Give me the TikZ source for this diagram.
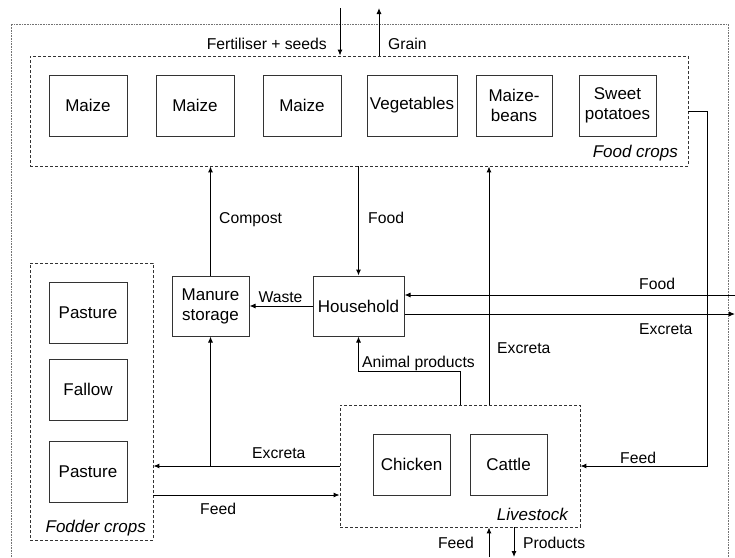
\documentclass[tikz,border=0pt]{standalone}
\usepackage{fontspec}
\setmainfont{Liberation Sans}
\usetikzlibrary{arrows.meta}

\begin{document}
\begin{tikzpicture}[x=1pt,y=-1pt,
  every node/.style={font=\fontsize{17}{20}\selectfont, inner sep=0pt},
  unit/.style={draw=black!80, line width=1pt, minimum width=78pt, minimum height=61pt, align=center},
  group/.style={draw=black!80, line width=0.8pt, dash pattern=on 3pt off 2pt},
  frame/.style={draw=black!55, line width=0.6pt, dash pattern=on 0.8pt off 0.8pt},
  flow/.style={line width=1pt, -{Latex[length=6pt,width=5pt]}},
  flowtext/.style={font=\fontsize{15.7}{18}\selectfont},
  lbl/.style={flowtext, anchor=base west},
  lblr/.style={flowtext, anchor=base east},
  grouplbl/.style={anchor=base east, font=\fontsize{17}{20}\selectfont\itshape}]

\useasboundingbox (0,0) rectangle (735,557);

% farm boundary
\draw[frame] (11,557) -- (11,24) -- (728,24) -- (728,557);

% groups
\node[group, minimum width=658pt, minimum height=110pt] (food) at (359,111) {};
\node[group, minimum width=123pt, minimum height=277pt] (fodder) at (91.5,401.5) {};
\node[group, minimum width=240pt, minimum height=122pt] (livestock) at (460,466) {};

% food crops
\node[unit] (maize1) at (88,105.5) {Maize};
\node[unit] (maize2) at (195,105.5) {Maize};
\node[unit] (maize3) at (302,105.5) {Maize};
\node[unit, minimum width=90pt] (veg) at (412,105.5) {Vegetables};
\node[unit, minimum width=76pt] (mbeans) at (514,105.5) {Maize-\\beans};
\node[unit, minimum width=77pt] (sweet) at (617.5,105.5) {Sweet\\potatoes};
\node[grouplbl] (foodlbl) at (678,157) {Food crops};

% fodder crops
\node[unit] (past1) at (88,312.5) {Pasture};
\node[unit] (fallow) at (88,389.5) {Fallow};
\node[unit] (past2) at (88,471.5) {Pasture};
\node[grouplbl] (fodderlbl) at (146,532) {Fodder crops};

% livestock
\node[unit, minimum width=77pt] (chicken) at (411.5,464.5) {Chicken};
\node[unit, minimum width=77pt] (cattle) at (508.5,464.5) {Cattle};
\node[grouplbl] (livelbl) at (568,520) {Livestock};

% household and manure
\node[unit, minimum width=77pt, minimum height=60pt] (manure) at (210.5,306) {Manure\\storage};
\node[unit, minimum width=91pt, minimum height=60pt] (household) at (358.5,306) {Household};

% free ends
\coordinate (fertin) at (340,8);
\coordinate (grainout) at (379,8);
\coordinate (ap) at (460,371);
\coordinate (exup) at (489,405);
\coordinate (sp) at (707,0);
\coordinate (foodin) at (735,295);
\coordinate (exout) at (735,314);
\coordinate (feedl) at (153,495);
\coordinate (feedb) at (489,557);
\coordinate (prod) at (514,557);

% flows
\draw[flow] (fertin) -- (fertin |- food.north);
\draw[flow] (grainout |- food.north) -- (grainout);
\draw[flow] (manure.north) -- (manure.north |- food.south);
\draw[flow] (household.north |- food.south) -- (household.north);
\draw[flow] (household.west) -- (manure.east);
\draw[flow] (livestock.north) -- (ap) -| (household.south);
\draw[flow] (exup) -- (exup |- food.south);
\draw[flow] (food.east) -- (food.east -| sp) |- (livestock.east);
\draw[flow] (foodin) -- (foodin -| household.east);
\draw[flow] (exout -| household.east) -- (exout);
\draw[flow] (livestock.west) -- (livestock.west -| fodder.east);
\draw[flow] (manure.south |- livestock.west) -- (manure.south);
\draw[flow] (feedl) -- (feedl -| livestock.west);
\draw[flow] (feedb) -- (feedb |- livestock.south);
\draw[flow] (prod |- livestock.south) -- (prod);

% flow labels
\node[lblr] (tfert) at (327,49) {Fertiliser + seeds};
\node[lbl] (tgrain) at (388,49) {Grain};
\node[lbl] (tcompost) at (219,223) {Compost};
\node[lbl] (tfood) at (368,223) {Food};
\node[flowtext, anchor=base] (twaste) at (280.5,302) {Waste};
\node[lbl] (tanimal) at (362,367) {Animal products};
\node[lbl] (texup) at (497,353) {Excreta};
\node[lbl] (tfoodin) at (639,289) {Food};
\node[lbl] (texout) at (639,334) {Excreta};
\node[lbl] (tfeedr) at (620,463) {Feed};
\node[lbl] (texl) at (252,458) {Excreta};
\node[lbl] (tfeedl) at (200,514) {Feed};
\node[lblr] (tfeedb) at (474,548) {Feed};
\node[lbl] (tprod) at (523,548) {Products};
\end{tikzpicture}
\end{document}
